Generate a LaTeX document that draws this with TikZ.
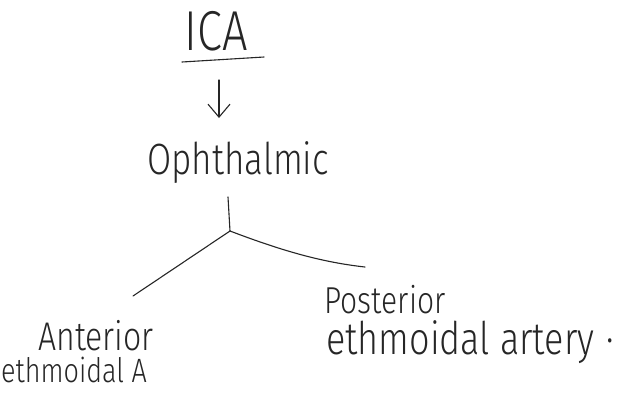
\documentclass[tikz,border=0pt]{standalone}
\usepackage{fontspec}
\setmainfont{Fira Sans Light}
\usetikzlibrary{arrows.meta,calc}
\definecolor{ink}{HTML}{262626}
\begin{document}
\begin{tikzpicture}[x=1pt,y=-1pt,
  every node/.style={inner sep=0pt,outer sep=0pt,text=ink,anchor=center},
  hand/.style={yscale=1.25},
  pen/.style={draw=ink,line width=1.1pt,line cap=round,line join=round},
  arr/.style={pen,-{Straight Barb[length=13pt,width=22pt,line width=1.1pt]}}]
  % canvas
  \fill[white] (0,0) rectangle (644,392);
  \useasboundingbox (0,0) rectangle (644,392);

  % labels
  \node[hand] (ica)   at (216,31)  {\fontsize{45}{45}\selectfont ICA};
  \node[hand] (oph)   at (238,163) {\fontsize{35}{35}\selectfont Ophthalmic};
  \node[hand] (ant)   at (96,336)  {\fontsize{32}{32}\selectfont Anterior};
  \node[hand] (ante)  at (74,370)  {\fontsize{27}{27}\selectfont ethmoidal A};
  \node[hand] (post)  at (385,300) {\fontsize{30}{30}\selectfont Posterior};
  \node[hand] (poste) at (470,342) {\fontsize{36}{36}\selectfont ethmoidal artery\hspace{12pt}\raisebox{0.5ex}{.}};

  % underline of the heading
  \draw[pen] (182,62) -- (264,57);

  % arrow from the heading down to the ophthalmic artery
  \draw[arr] ($(ica.center)+(3,49)$) -- ($(ica.center |- oph.center)+(3,-45)$);

  % branching point and its two branches
  \coordinate (j)  at (230,231);
  \coordinate (la) at (133,296);
  \coordinate (rb) at (365,267);
  \draw[pen] ($(oph.center)+(-10,34)$) -- (j);
  \draw[pen] (j) -- (la);
  \draw[pen] (j) .. controls (280,250) and (320,262) .. (rb);
\end{tikzpicture}
\end{document}
